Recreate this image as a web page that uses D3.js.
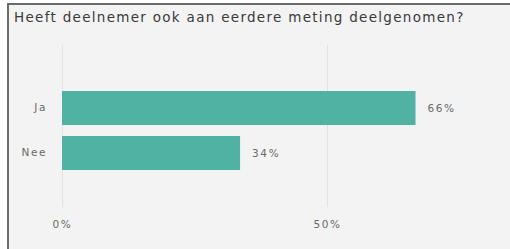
<!DOCTYPE html>
<html>
<head>
<meta charset="utf-8">
<script src="https://cdn.jsdelivr.net/npm/d3@7"></script>
<style>
  body { margin: 0; background: #fff; }
  svg { display: block; }
</style>
</head>
<body>
<div id="chart"></div>
<script>
var title = "Heeft deelnemer ook aan eerdere meting deelgenomen?";
var categories = ["Ja", "Nee"];
var values = [66.7, 33.6];
var valueLabels = ["66%", "34%"];
var ticks = [0, 50];

const w = 510;
const h = 249;
const font = "DejaVu Sans, sans-serif";

const svg = d3.select("#chart")
    .append("svg")
    .attr("width", w)
    .attr("height", h);

// panel background + border (left and top visible)
svg.append("rect")
    .attr("x", 8).attr("y", 4)
    .attr("width", w).attr("height", h)
    .attr("fill", "#f3f3f3");
svg.append("line")
    .attr("x1", 8).attr("x2", 8).attr("y1", 3).attr("y2", h)
    .attr("stroke", "#6b6b6b").attr("stroke-width", 2);
svg.append("line")
    .attr("x1", 7).attr("x2", w).attr("y1", 4).attr("y2", 4)
    .attr("stroke", "#6b6b6b").attr("stroke-width", 2);

svg.append("text")
    .attr("x", 14)
    .attr("y", 22)
    .attr("font-family", font)
    .attr("font-size", 13.5)
    .attr("letter-spacing", 1.3)
    .attr("fill", "#3a3a3a")
    .text(title);

const xScale = d3.scaleLinear()
    .domain([0, 50])
    .range([62, 327]);

const yScale = d3.scaleBand()
    .domain(categories)
    .range([91, 170])
    .paddingInner(0.244)
    .paddingOuter(0);

// gridlines
svg.selectAll(".grid")
    .data(ticks)
    .enter()
    .append("line")
    .attr("class", "grid")
    .attr("x1", d => Math.round(xScale(d)) + 0.5)
    .attr("x2", d => Math.round(xScale(d)) + 0.5)
    .attr("y1", 45)
    .attr("y2", 207)
    .attr("stroke", "#e3e3e3");

// bars
svg.selectAll(".bar")
    .data(values)
    .enter()
    .append("rect")
    .attr("class", "bar")
    .attr("x", xScale(0))
    .attr("y", (d, i) => yScale(categories[i]))
    .attr("width", d => xScale(d) - xScale(0))
    .attr("height", yScale.bandwidth())
    .attr("fill", "#50b2a2");

// value labels
svg.selectAll(".val")
    .data(values)
    .enter()
    .append("text")
    .attr("class", "val")
    .attr("x", d => xScale(d) + 12)
    .attr("y", (d, i) => yScale(categories[i]) + yScale.bandwidth() / 2)
    .attr("dy", "0.35em")
    .attr("font-family", font)
    .attr("font-size", 10.5)
    .attr("letter-spacing", 1.6)
    .attr("fill", "#6a6a6a")
    .text((d, i) => valueLabels[i]);

// y axis labels
const yAxis = d3.axisLeft(yScale).tickSize(0).tickPadding(15);
const gy = svg.append("g")
    .attr("transform", "translate(62,0)")
    .call(yAxis);
gy.select(".domain").remove();
gy.selectAll("text")
    .attr("font-family", font)
    .attr("font-size", 10.5)
    .attr("letter-spacing", 1.6)
    .attr("fill", "#6a6a6a");

// x axis labels
const xAxis = d3.axisBottom(xScale)
    .tickValues(ticks)
    .tickFormat(d => d + "%")
    .tickSize(0)
    .tickPadding(0);
const gx = svg.append("g")
    .attr("transform", "translate(0,221)")
    .call(xAxis);
gx.select(".domain").remove();
gx.selectAll("text")
    .attr("font-family", font)
    .attr("font-size", 10.5)
    .attr("letter-spacing", 1.6)
    .attr("fill", "#6a6a6a");
</script>
</body>
</html>
